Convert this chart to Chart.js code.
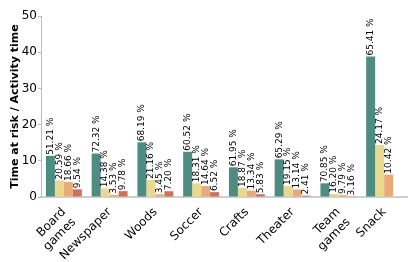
<!DOCTYPE html>
<html>
<head>
<meta charset="utf-8">
<script src="https://cdn.jsdelivr.net/npm/chart.js@4/dist/chart.umd.min.js"></script>
<style>
  html, body { margin: 0; padding: 0; background: #fff; }
  canvas { display: block; }
</style>
</head>
<body>
<canvas id="riskChart" width="419" height="262"></canvas>
<script>
// activities on the x axis
var activities = [['Board', 'games'], 'Newspaper', 'Woods', 'Soccer', 'Crafts', 'Theater', ['Team', 'games'], 'Snack'];

// time at risk / activity time, one array per bar colour
var teal   = [11.37, 12.00, 15.10, 12.50, 8.20, 10.40, 3.78, 38.80];
var yellow = [4.57, 2.39, 4.69, 3.78, 2.50, 3.05, 0.87, 14.34];
var orange = [4.14, 0.59, 0.76, 3.02, 1.77, 2.09, 0.52, 6.18];
var red    = [2.12, 1.62, 1.59, 1.35, 0.77, 0.38, 0.17, null];

// share labels printed on top of the bars
var tealPct   = ['51.21', '72.32', '68.19', '60.52', '61.95', '65.29', '70.85', '65.41'];
var yellowPct = ['20.59', '14.38', '21.16', '18.31', '18.87', '19.15', '16.20', '24.17'];
var orangePct = ['18.66', '3.53', '3.45', '14.64', '13.34', '13.14', '9.79', '10.42'];
var redPct    = ['9.54', '9.78', '7.20', '6.52', '5.83', '2.41', '3.16', null];

var yTicks = [0, 10, 20, 30, 40, 50];

var pctLabels = {
    id: 'pctLabels',
    afterDatasetsDraw: function (chart) {
        var ctx = chart.ctx;
        ctx.save();
        ctx.font = '9px "DejaVu Sans"';
        ctx.fillStyle = '#000';
        ctx.textAlign = 'left';
        ctx.textBaseline = 'middle';
        chart.data.datasets.forEach(function (ds, i) {
            var meta = chart.getDatasetMeta(i);
            meta.data.forEach(function (bar, j) {
                var txt = ds.pct[j];
                if (txt == null || ds.data[j] == null) return;
                ctx.save();
                ctx.translate(bar.x, bar.y - 1);
                ctx.rotate(-Math.PI / 2);
                ctx.fillText(txt + ' %', 0, 0);
                ctx.restore();
            });
        });
        ctx.restore();
    }
};

var ctx = document.getElementById('riskChart');
var myChart = new Chart(ctx, {
    type: 'bar',
    plugins: [pctLabels],
    data: {
        labels: activities,
        datasets: [
            { data: teal, pct: tealPct, backgroundColor: '#4e8c82' },
            { data: yellow, pct: yellowPct, backgroundColor: '#ead88f' },
            { data: orange, pct: orangePct, backgroundColor: '#eaaa78' },
            { data: red, pct: redPct, backgroundColor: '#cd705c' }
        ]
    },
    options: {
        responsive: false,
        animation: false,
        devicePixelRatio: 1,
        categoryPercentage: 0.785,
        barPercentage: 1,
        layout: { padding: { top: 16, right: 12, left: 0, bottom: 0 } },
        plugins: {
            legend: { display: false },
            tooltip: { enabled: false }
        },
        scales: {
            x: {
                offset: true,
                grid: { display: false },
                border: { color: '#cfcfcf', width: 2 },
                ticks: {
                    color: '#000',
                    font: { family: 'DejaVu Sans', size: 12 },
                    maxRotation: 45,
                    minRotation: 45,
                    autoSkip: false,
                    padding: 0
                },
                afterFit: function (scale) { scale.height = 65; }
            },
            y: {
                min: yTicks[0],
                max: yTicks[yTicks.length - 1],
                afterBuildTicks: function (scale) {
                    scale.ticks = yTicks.map(function (v) { return { value: v }; });
                },
                grid: { drawOnChartArea: false, drawTicks: true, tickLength: 3, color: '#bbb' },
                border: { color: '#bbb', width: 1 },
                ticks: {
                    color: '#000',
                    font: { family: 'DejaVu Sans', size: 12 },
                    padding: 1
                },
                title: {
                    display: true,
                    text: 'Time at risk / Activity time',
                    color: '#000',
                    font: { family: 'DejaVu Sans', size: 11, weight: 'bold' },
                    padding: { top: 9, bottom: 0 }
                },
                afterFit: function (scale) { scale.width = 41; }
            }
        }
    }
});
</script>
</body>
</html>
